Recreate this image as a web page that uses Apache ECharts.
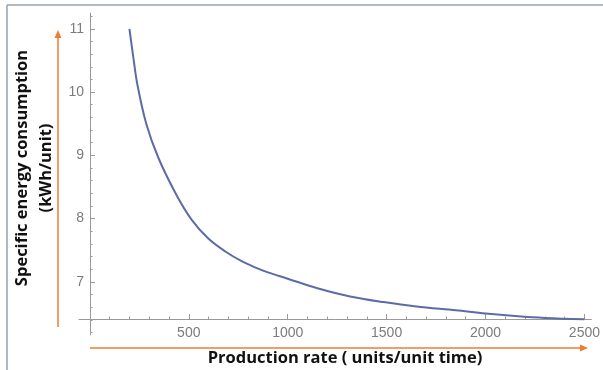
<!DOCTYPE html>
<html>
<head>
<meta charset="utf-8">
<title>Specific energy consumption vs production rate</title>
<script src="https://cdn.jsdelivr.net/npm/echarts@6/dist/echarts.min.js"></script>
<style>
  html, body { margin: 0; padding: 0; background: #ffffff; }
  #chart { width: 603px; height: 370px; }
</style>
</head>
<body>
<div id="chart"></div>
<script>
// Production rate (units / unit time)
const productionRate = [200, 220, 240, 285, 345, 435, 515, 600, 685, 765, 835, 900,
                        1000, 1150, 1315, 1485, 1650, 1850, 2000, 2150, 2300, 2500];
// Specific energy consumption (kWh / unit)
const energyPerUnit = [11.0, 10.54, 10.12, 9.5, 8.97, 8.39, 7.98, 7.68, 7.48, 7.33, 7.23, 7.15,
                       7.05, 6.90, 6.77, 6.68, 6.61, 6.55, 6.50, 6.46, 6.43, 6.41];

// Tick positions and labels
const xMajorTicks = [500, 1000, 1500, 2000, 2500];
const xMinorTicks = [100, 200, 300, 400, 600, 700, 800, 900, 1100, 1200, 1300, 1400,
                     1600, 1700, 1800, 1900, 2100, 2200, 2300, 2400];
const yMajorTicks = [7, 8, 9, 10, 11];
const yMinorTicks = [6.2, 6.4, 6.6, 6.8, 7.2, 7.4, 7.6, 7.8, 8.2, 8.4, 8.6, 8.8,
                     9.2, 9.4, 9.6, 9.8, 10.2, 10.4, 10.6, 10.8, 11.2];

const xTitle = 'Production rate ( units/unit time)';
const yTitle = ['Specific energy consumption', '(kWh/unit)'];

const axisGray = '#9a9a9a';
const labelGray = '#7b7b7b';
const accent = '#ED7D31';

const chart = echarts.init(document.getElementById('chart'), null, { renderer: 'canvas' });

const plainNumber = v => String(v);

const xBase = {
  type: 'value', gridIndex: 0, min: -55, max: 2535, position: 'bottom', offset: -16,
  splitLine: { show: false }
};
const yBase = {
  type: 'value', gridIndex: 0, min: 6.16, max: 11.25, position: 'left', offset: -11,
  splitLine: { show: false }
};

chart.setOption({
  animation: false,
  grid: { left: 79, right: 6, top: 13, bottom: 35 },
  xAxis: [
    Object.assign({}, xBase, {
      axisLine: { onZero: false, lineStyle: { color: axisGray, width: 1 } },
      axisTick: { inside: true, length: 5, customValues: xMajorTicks, lineStyle: { color: axisGray } },
      axisLabel: { customValues: xMajorTicks, formatter: plainNumber, margin: 7, color: labelGray,
                   fontSize: 14, fontFamily: 'Liberation Sans' }
    }),
    Object.assign({}, xBase, {
      axisLine: { show: false, onZero: false },
      axisTick: { inside: true, length: 2.5, customValues: xMinorTicks, lineStyle: { color: axisGray } },
      axisLabel: { show: false }
    })
  ],
  yAxis: [
    Object.assign({}, yBase, {
      axisLine: { show: true, onZero: false, lineStyle: { color: axisGray, width: 1 } },
      axisTick: { show: true, inside: true, length: 5, customValues: yMajorTicks, lineStyle: { color: axisGray } },
      axisLabel: { customValues: yMajorTicks, formatter: plainNumber, margin: 6, color: labelGray,
                   fontSize: 14, fontFamily: 'Liberation Sans' }
    }),
    Object.assign({}, yBase, {
      axisLine: { show: false, onZero: false },
      axisTick: { show: true, inside: true, length: 2.5, customValues: yMinorTicks, lineStyle: { color: axisGray } },
      axisLabel: { show: false }
    })
  ],
  series: [{
    type: 'line',
    xAxisIndex: 0,
    yAxisIndex: 0,
    data: productionRate.map((x, i) => [x, energyPerUnit[i]]),
    smooth: 0.35,
    showSymbol: false,
    lineStyle: { color: '#5b6ca6', width: 2 }
  }],
  graphic: [
    // frame edges
    { type: 'line', shape: { x1: 7, y1: 5, x2: 603, y2: 5 }, style: { stroke: '#97a3ad', lineWidth: 1.5 } },
    { type: 'line', shape: { x1: 7, y1: 5, x2: 7, y2: 370 }, style: { stroke: '#97a3ad', lineWidth: 1.5 } },
    // vertical arrow beside the y title
    { type: 'line', shape: { x1: 58, y1: 327, x2: 58, y2: 37 }, style: { stroke: accent, lineWidth: 1.5 } },
    { type: 'polygon', shape: { points: [[58, 30], [54.5, 38], [61.5, 38]] }, style: { fill: accent } },
    // horizontal arrow above the x title
    { type: 'line', shape: { x1: 90, y1: 348, x2: 581, y2: 348 }, style: { stroke: accent, lineWidth: 1.5 } },
    { type: 'polygon', shape: { points: [[588, 348], [580, 344.5], [580, 351.5]] }, style: { fill: accent } },
    // axis titles
    {
      type: 'text', x: 34, y: 168, rotation: Math.PI / 2,
      style: {
        text: yTitle.join('\n'), align: 'center', verticalAlign: 'middle',
        font: 'bold 16.5px "Open Sans"', lineHeight: 24, fill: '#111111'
      }
    },
    {
      type: 'text', x: 345, y: 358,
      style: {
        text: xTitle, align: 'center', verticalAlign: 'middle',
        font: 'bold 16.5px "Open Sans"', fill: '#111111'
      }
    }
  ]
});
</script>
</body>
</html>
